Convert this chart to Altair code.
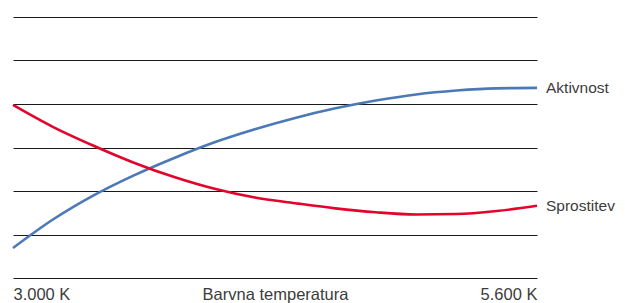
import altair as alt
import pandas as pd

kelvin = [3000, 3200, 3400, 3600, 3800, 4000, 4200, 4400, 4600, 4800, 5000, 5200, 5400, 5600]
aktivnost = [0.69, 1.35, 1.9, 2.36, 2.76, 3.12, 3.42, 3.68, 3.9, 4.08, 4.22, 4.31, 4.36, 4.37]
sprostitev = [3.98, 3.47, 3.04, 2.65, 2.32, 2.05, 1.85, 1.72, 1.6, 1.51, 1.46, 1.47, 1.54, 1.66]
series_names = ["Aktivnost", "Sprostitev"]
series_colors = ["#4a79b6", "#e4032a"]
x_tick_values = [3000, 4300, 5600]
x_tick_labels = ["3.000 K", "Barvna temperatura", "5.600 K"]

rows = []
for k, a, s in zip(kelvin, aktivnost, sprostitev):
    rows.append({"K": k, "v": a, "s": series_names[0]})
    rows.append({"K": k, "v": s, "s": series_names[1]})
df = pd.DataFrame(rows)
end_df = pd.DataFrame({"K": [kelvin[-1]] * 2, "v": [aktivnost[-1], sprostitev[-1]], "s": series_names})

label_map = "{" + ",".join(f"'{v}':'{l}'" for v, l in zip(x_tick_values, x_tick_labels)) + "}"

x = alt.X("K:Q", scale=alt.Scale(domain=[3000, 5600], nice=False, zero=False),
          axis=alt.Axis(values=x_tick_values, labelExpr=f"{label_map}[datum.value]",
                        grid=False, domain=False, ticks=False, labelFlush=True,
                        labelFontSize=16.5, labelColor="#3c3c3c", labelFont="Liberation Sans",
                        labelPadding=8, title=None))
y = alt.Y("v:Q", scale=alt.Scale(domain=[0, 6], nice=False),
          axis=alt.Axis(values=[0, 1, 2, 3, 4, 5, 6], grid=True, gridColor="#1a1a1a",
                        gridWidth=1.2, labels=False, ticks=False, domain=False, title=None))
color = alt.Color("s:N", scale=alt.Scale(domain=series_names, range=series_colors), legend=None)

lines = alt.Chart(df).mark_line(strokeWidth=2.6, interpolate="monotone").encode(x=x, y=y, color=color)
labels = alt.Chart(end_df).mark_text(align="left", dx=9, fontSize=15.5, color="#3c3c3c",
                                    font="Liberation Sans", clip=False).encode(
    x=alt.X("K:Q"), y=alt.Y("v:Q"), text="s:N")

chart = (lines + labels).properties(
    width=524, height=261,
    autosize=alt.AutoSizeParams(type="none"),
    padding={"left": 5, "top": 9, "right": 80, "bottom": 25},
).configure_view(stroke=None)

chart.save("out.html", embed_options={"renderer": "svg", "actions": False})
